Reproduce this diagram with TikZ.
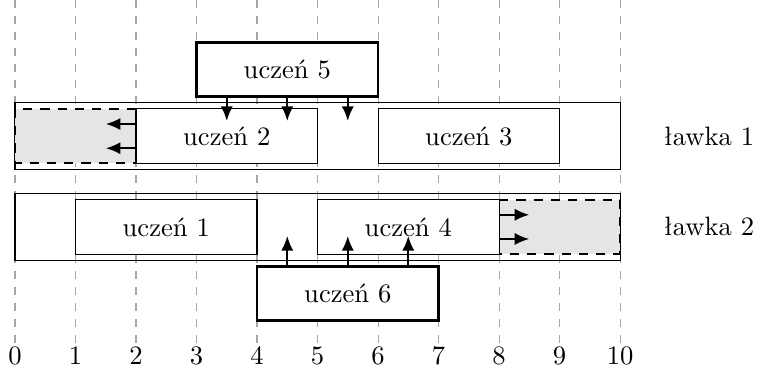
\documentclass[tikz,border=0pt]{standalone}
\usetikzlibrary{arrows.meta,calc}
\begin{document}
\begin{tikzpicture}[x=0.8cm,y=0.8cm,
  grid/.style={gray!70,dashed,thin},
  num/.style={anchor=north,inner sep=1.5pt},
  bench/.style={draw,minimum width=8cm,minimum height=0.88cm,inner sep=0pt},
  pupil/.style={draw,fill=white,minimum width=2.4cm,minimum height=0.72cm,inner sep=0pt},
  mover/.style={pupil,line width=1pt},
  shade/.style={fill=gray!20},
  ghost/.style={thick,dash pattern=on 3.5pt off 3pt},
  ghostin/.style={thick,dash pattern=on 3.5pt off 3pt,gray!60},
  arr/.style={thick,-{Latex[length=5.5pt,width=4.6pt]}}
]
\useasboundingbox (-0.248,0) rectangle (12.28,-6.15);
% grid and axis numbers
\foreach \i in {0,...,10} {
  \draw[grid] (\i,0) -- (\i,-5.68);
  \node[num] (n\i) at (\i,-5.66) {\i};
}
% benches
\node[bench] (b1) at (5,-2.25) {};
\node[bench] (b2) at (5,-3.75) {};
\node (l1) at (11.47,-2.25) {ławka 1};
\node (l2) at (11.47,-3.75) {ławka 2};
% shifted places
\fill[shade] (0,-1.8) rectangle (2,-2.7);
\fill[shade] (8,-3.3) rectangle (10,-4.2);
\draw[ghostin] (2,-1.8) -- (3,-1.8);
\draw[ghostin] (2,-2.7) -- (3,-2.7);
\draw[ghostin] (8,-3.3) -- (7,-3.3);
\draw[ghostin] (8,-4.2) -- (7,-4.2);
% pupils
\node[pupil] (u2) at (3.5,-2.25) {uczeń 2};
\node[pupil] (u3) at (7.5,-2.25) {uczeń 3};
\node[pupil] (u1) at (2.5,-3.75) {uczeń 1};
\node[pupil] (u4) at (6.5,-3.75) {uczeń 4};
\draw[ghost] (2,-1.8) -- (0,-1.8) -- (0,-2.7) -- (2,-2.7);
\draw[ghost] (8,-3.3) -- (10,-3.3) -- (10,-4.2) -- (8,-4.2);
\node[mover] (u5) at (4.5,-1.15) {uczeń 5};
\node[mover] (u6) at (5.5,-4.85) {uczeń 6};
% arrows
\foreach \x in {3.5,4.5,5.5} \draw[arr] (\x,0 |- u5.south) -- (\x,-2.0);
\foreach \x in {4.5,5.5,6.5} \draw[arr] (\x,0 |- u6.north) -- (\x,-3.9);
\foreach \y in {-2.05,-2.45} \draw[arr] (u2.west |- 0,\y) -- (1.5,\y);
\foreach \y in {-3.55,-3.95} \draw[arr] (u4.east |- 0,\y) -- (8.5,\y);
\end{tikzpicture}
\end{document}
